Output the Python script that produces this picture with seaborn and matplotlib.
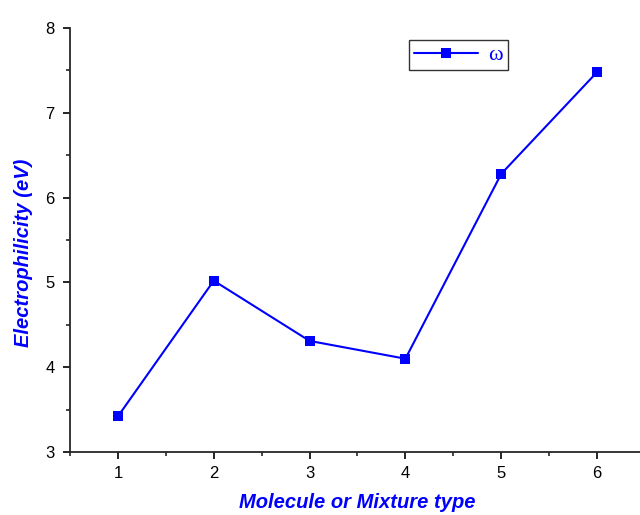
import pandas as pd
import seaborn as sns
import matplotlib.pyplot as plt
from matplotlib.ticker import MultipleLocator

# Data
mol_type = [1, 2, 3, 4, 5, 6]
omega = [3.42, 5.02, 4.31, 4.10, 6.28, 7.48]

df = pd.DataFrame({'type': mol_type, 'omega': omega})

sns.set_style("ticks")
plt.rcParams['font.family'] = ['Liberation Sans', 'DejaVu Sans']

fig = plt.figure(figsize=(6.4, 5.15), dpi=100)
ax = fig.add_axes([70 / 640, 63 / 515, 575 / 640, 424 / 515])

sns.lineplot(data=df, x='type', y='omega', ax=ax, color='#0000ff', linewidth=1.5,
             marker='s', markersize=6.5, markeredgewidth=0, label='ω')

ax.set_xlim(0.5, 6.5)
ax.set_ylim(3, 8)
ax.xaxis.set_major_locator(MultipleLocator(1))
ax.xaxis.set_minor_locator(MultipleLocator(0.5))
ax.yaxis.set_major_locator(MultipleLocator(1))
ax.yaxis.set_minor_locator(MultipleLocator(0.5))
ax.tick_params(which='major', direction='out', length=5, width=1.2, labelsize=12, colors='black')
ax.tick_params(which='minor', direction='out', length=3, width=1.2)
ax.tick_params(axis='x', which='major', pad=5)
ax.tick_params(axis='y', which='major', pad=6)

for side in ['top', 'right']:
    ax.spines[side].set_visible(False)
for side in ['left', 'bottom']:
    ax.spines[side].set_linewidth(1.3)

ax.set_xlabel('Molecule or Mixture type', fontsize=14.5, fontweight='bold', fontstyle='italic',
              color='#0000ff', labelpad=9)
ax.set_ylabel('Electrophilicity (eV)', fontsize=14.5, fontweight='bold', fontstyle='italic',
              color='#0000ff')
ax.yaxis.set_label_coords(-0.064, 0.47)

leg = ax.legend(loc='upper left', bbox_to_anchor=(339 / 575, 1 - 12 / 424), frameon=True,
                fancybox=False, handlelength=2.9, borderpad=0.22, borderaxespad=0,
                handletextpad=0.45, markerscale=1.2,
                prop={'family': 'Liberation Serif', 'size': 16})
leg.get_frame().set_edgecolor('black')
leg.get_frame().set_linewidth(1.0)
for t in leg.get_texts():
    t.set_color('#0000ff')

plt.savefig('out.png', dpi=100)
